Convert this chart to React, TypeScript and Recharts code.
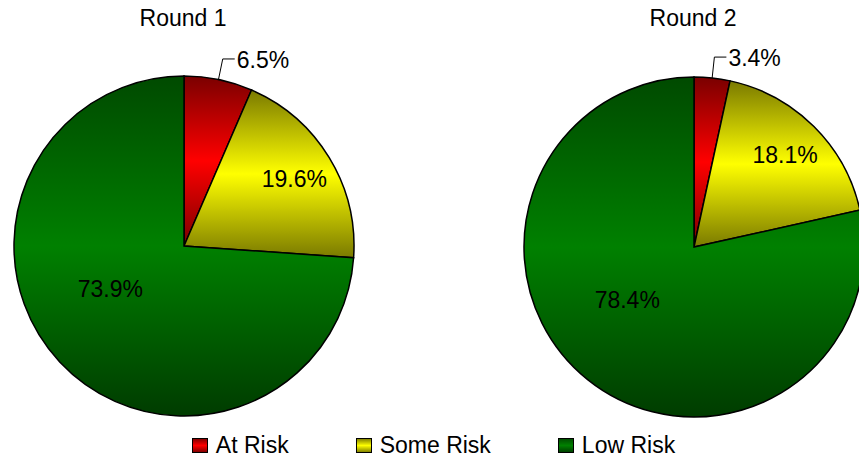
import React from 'react';
import { PieChart, Pie, Cell } from 'recharts';

const categories = ['At Risk', 'Some Risk', 'Low Risk'];
const round1Values = [6.5, 19.6, 73.9];
const round2Values = [3.4, 18.1, 78.4];
const roundTitles = ['Round 1', 'Round 2'];

const gradientIds = ['gRed', 'gYellow', 'gGreen'];
const gradientStops = [
  ['#7a0000', '#ff0000', '#7a0000'],
  ['#7a7a00', '#ffff00', '#7a7a00'],
  ['#004a00', '#008000', '#003c00'],
];

const FONT = '"Liberation Sans", Arial, sans-serif';
const RAD = Math.PI / 180;

const makeData = (vals: number[]) => categories.map((name, i) => ({ name, value: vals[i] }));

const renderLabel = (props: any) => {
  const { cx, cy, midAngle, outerRadius, value, index } = props;
  const txt = `${Number(value).toFixed(1)}%`;
  const pt = (r: number, a: number) => ({
    x: cx + r * Math.cos(-a * RAD),
    y: cy + r * Math.sin(-a * RAD),
  });
  if (index === 0) {
    const p1 = pt(outerRadius, midAngle);
    const p2 = pt(outerRadius + 21, midAngle);
    const p3 = { x: p2.x + 12, y: p2.y };
    return (
      <g key={`l${index}`}>
        <polyline points={`${p1.x},${p1.y} ${p2.x},${p2.y} ${p3.x},${p3.y}`} fill="none" stroke="#000" strokeWidth={1} />
        <text x={p3.x + 2} y={p3.y + 1} textAnchor="start" dominantBaseline="central" fontFamily={FONT} fontSize={23} fill="#000">
          {txt}
        </text>
      </g>
    );
  }
  const p = index === 1 ? pt(outerRadius * 0.76, midAngle) : pt(outerRadius * 0.5, midAngle - 13);
  return (
    <text key={`l${index}`} x={p.x} y={p.y} textAnchor="middle" dominantBaseline="central" fontFamily={FONT} fontSize={23} fill="#000">
      {txt}
    </text>
  );
};

export default function App() {
  const pies = [
    { data: makeData(round1Values), cx: 184, cy: 246 },
    { data: makeData(round2Values), cx: 694, cy: 247 },
  ];
  return (
    <div style={{ position: 'absolute', left: 0, top: 0, width: 859, height: 459, overflow: 'hidden', background: '#fff' }}>
      <svg width={0} height={0} style={{ position: 'absolute' }}>
        <defs>
          {gradientIds.map((id, i) => (
            <linearGradient key={id} id={id} x1="0" y1="0" x2="0" y2="1">
              <stop offset="0%" stopColor={gradientStops[i][0]} />
              <stop offset="50%" stopColor={gradientStops[i][1]} />
              <stop offset="100%" stopColor={gradientStops[i][2]} />
            </linearGradient>
          ))}
        </defs>
      </svg>
      <PieChart width={859} height={459} margin={{ top: 0, right: 0, bottom: 0, left: 0 }}>
        {pies.map((p, k) => (
          <Pie
            key={k}
            data={p.data}
            dataKey="value"
            nameKey="name"
            cx={p.cx}
            cy={p.cy}
            outerRadius={170}
            startAngle={90}
            endAngle={-270}
            stroke="#000"
            strokeWidth={1.5}
            label={renderLabel}
            labelLine={false}
            isAnimationActive={false}
          >
            {p.data.map((d, i) => (
              <Cell key={d.name} fill={`url(#${gradientIds[i]})`} />
            ))}
          </Pie>
        ))}
      </PieChart>
      {roundTitles.map((t, k) => (
        <div
          key={t}
          style={{
            position: 'absolute',
            left: pies[k].cx - 101,
            width: 200,
            top: 7,
            textAlign: 'center',
            fontFamily: FONT,
            fontSize: 23,
            lineHeight: '23px',
            color: '#000',
          }}
        >
          {t}
        </div>
      ))}
      <div
        style={{
          position: 'absolute',
          left: 4,
          width: 859,
          top: 434,
          display: 'flex',
          justifyContent: 'center',
          gap: 67,
          fontFamily: FONT,
          fontSize: 23,
          lineHeight: '23px',
          color: '#000',
        }}
      >
        {categories.map((c, i) => (
          <div key={c} style={{ display: 'flex', alignItems: 'center' }}>
            <svg width={16} height={15} style={{ marginRight: 8 }}>
              <rect x={0.5} y={0.5} width={15} height={14} fill={`url(#${gradientIds[i]})`} stroke="#000" strokeWidth={1} />
            </svg>
            <span>{c}</span>
          </div>
        ))}
      </div>
    </div>
  );
}
